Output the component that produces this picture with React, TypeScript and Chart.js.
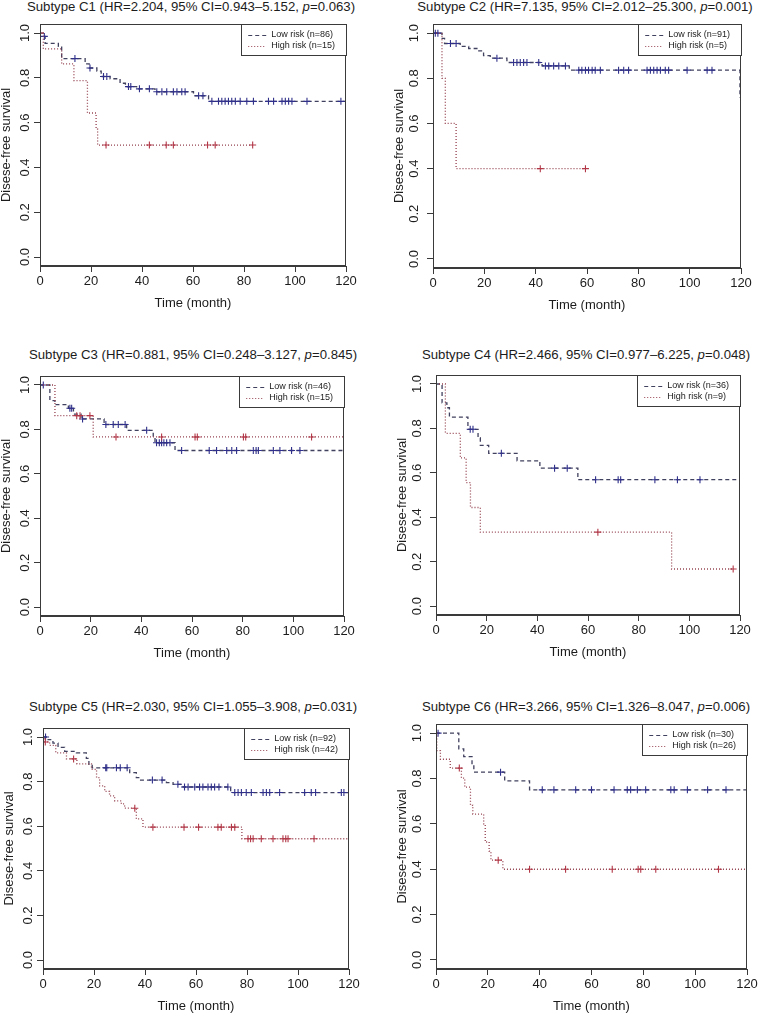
import React, { useEffect, useRef } from "react";
import { Chart, registerables } from "chart.js";
Chart.register(...registerables);

const FONT = "'Liberation Sans', Arial, Helvetica, sans-serif";

const xTicks = [0, 20, 40, 60, 80, 100, 120];
const yTicks = [0, 0.2, 0.4, 0.6, 0.8, 1.0];
const yTickLabels = ["0.0", "0.2", "0.4", "0.6", "0.8", "1.0"];

const subtypes = ["C1", "C2", "C3", "C4", "C5", "C6"];
const hrValues = ["2.204", "7.135", "0.881", "2.466", "2.030", "3.266"];
const ciValues = ["0.943–5.152", "2.012–25.300", "0.248–3.127", "0.977–6.225", "1.055–3.908", "1.326–8.047"];
const pValues = ["0.063", "0.001", "0.845", "0.048", "0.031", "0.006"];
const nLow = [86, 91, 46, 36, 92, 30];
const nHigh = [15, 5, 15, 9, 42, 26];

// ---- C1 ----
const c1LowTime = [0, 1.3, 2, 7.2, 8.5, 17.7, 19.3, 22.3, 24, 27.5, 31.4, 33.5, 37.9, 45.1, 60.2, 66.1, 120];
const c1LowSurv = [1, 0.985, 0.954, 0.941, 0.886, 0.862, 0.844, 0.83, 0.806, 0.796, 0.776, 0.761, 0.751, 0.738, 0.72, 0.695, 0.695];
const c1LowCens = [1.7, 13.7, 19.6, 24.9, 26.2, 34.7, 35.6, 39, 42.9, 45.8, 47.8, 49.7, 52.3, 53.7, 55.6, 56.9, 62.2, 63.9, 67.4, 70, 71.3, 72.6, 73.9, 75.2, 76.6, 78.5, 81.1, 83.7, 89.6, 91.6, 94.9, 96.2, 97.5, 98.8, 104.7, 118];
const c1HighTime = [0, 1.3, 8.5, 13.3, 18.6, 22, 22.6, 83.4];
const c1HighSurv = [1, 0.929, 0.862, 0.788, 0.643, 0.571, 0.5, 0.5];
const c1HighCens = [0, 25.9, 42.9, 49.5, 52.3, 65.7, 68.7, 83.4];

// ---- C2 ----
const c2LowTime = [0, 3.5, 4.5, 10.6, 13.9, 17.1, 19.7, 22.3, 28.8, 42.5, 53.1, 119.6];
const c2LowSurv = [1, 0.977, 0.954, 0.941, 0.932, 0.921, 0.9, 0.889, 0.87, 0.855, 0.836, 0.714];
const c2LowCens = [0.9, 1.9, 6.8, 9, 24.9, 31.4, 32.7, 34, 35.3, 36.6, 41.2, 43.8, 45.1, 47, 49, 51.6, 56.8, 58, 59.4, 60.6, 62, 63.2, 65.2, 72.3, 74.3, 76.2, 83.4, 84.7, 86, 87.3, 88.6, 90.5, 91.8, 99, 106.8, 108.7];
const c2HighTime = [0, 3.5, 4.8, 9, 59.4];
const c2HighSurv = [1, 0.8, 0.6, 0.4, 0.4];
const c2HighCens = [41.8, 59.4];

// ---- C3 ----
const c3LowTime = [0, 3.9, 5.9, 11.2, 13.2, 16.2, 25.3, 34.2, 44.7, 45.4, 53.3, 120];
const c3LowSurv = [1, 0.93, 0.912, 0.895, 0.869, 0.847, 0.822, 0.796, 0.766, 0.74, 0.705, 0.705];
const c3LowCens = [1.3, 11.8, 12.5, 16.8, 26, 28.9, 30.9, 33.6, 42.1, 46, 47.1, 48, 48.9, 50, 51.3, 55.9, 66.8, 69.7, 73.7, 75.7, 77.6, 84.2, 85.3, 86.2, 92.1, 94.7, 99.3, 102.6];
const c3HighTime = [0, 5.9, 21, 120];
const c3HighSurv = [1, 0.862, 0.766, 0.766];
const c3HighCens = [14.5, 15.8, 19.7, 30, 48, 61.2, 62.1, 80.3, 81.2, 107.2];

// ---- C4 ----
const c4LowTime = [0, 2.4, 4.3, 5.3, 12.6, 16.6, 17.5, 20.8, 32, 41, 56, 120];
const c4LowSurv = [1, 0.915, 0.893, 0.851, 0.796, 0.758, 0.724, 0.688, 0.654, 0.621, 0.569, 0.569];
const c4LowCens = [13.5, 14.6, 25.8, 46.8, 51.8, 63, 71.9, 72.9, 86.4, 95.3, 104.2];
const c4HighTime = [0, 3.7, 9.6, 11.9, 13.6, 17.5, 93, 117.3];
const c4HighSurv = [1, 0.778, 0.667, 0.556, 0.444, 0.333, 0.167, 0.167];
const c4HighCens = [63.9, 117.3];

// ---- C5 ----
const c5LowTime = [0, 2, 3.9, 5.9, 8.5, 13.1, 17, 18, 19.3, 34, 36.6, 37.9, 48.4, 51, 54.9, 73.6, 120];
const c5LowSurv = [1, 0.988, 0.973, 0.954, 0.936, 0.929, 0.904, 0.877, 0.862, 0.84, 0.818, 0.807, 0.796, 0.788, 0.776, 0.751, 0.751];
const c5LowCens = [1, 24.6, 25, 28.8, 30.3, 33, 42.9, 46.7, 52.9, 55.5, 56.9, 59.5, 61.4, 62.7, 64.7, 66, 67.3, 69, 72.5, 75.2, 76.5, 77.8, 79.7, 81.7, 86.3, 87.6, 88.9, 92.8, 102.6, 105.2, 106.9, 117, 118];
const c5HighTime = [0, 0.7, 2.6, 5, 9.2, 13.3, 19, 21, 22.2, 24.2, 26.1, 28.1, 30.7, 32, 36.6, 39.2, 78, 120];
const c5HighSurv = [1, 0.978, 0.963, 0.929, 0.902, 0.88, 0.855, 0.818, 0.781, 0.756, 0.736, 0.714, 0.7, 0.681, 0.633, 0.596, 0.544, 0.544];
const c5HighCens = [0.9, 12, 36, 43.1, 55.3, 61, 68.6, 69.9, 73.9, 75.2, 80.4, 81.4, 82.4, 85.6, 90.2, 94.1, 95.2, 96.1, 106.3];

// ---- C6 ----
const c6LowTime = [0, 8.8, 10.7, 13.9, 14.6, 26.5, 36.1, 120];
const c6LowSurv = [1, 0.931, 0.897, 0.862, 0.828, 0.79, 0.75, 0.75];
const c6LowCens = [0.8, 24.9, 41, 45.5, 53.9, 60, 68.7, 73.8, 75.1, 77.7, 80.9, 90.6, 91.9, 97, 104.8, 111.9];
const c6HighTime = [0, 0.3, 1.7, 5.5, 9.8, 11.1, 13.3, 14.2, 18.4, 19, 20.5, 21.2, 25.8, 120];
const c6HighSurv = [1, 0.923, 0.885, 0.846, 0.802, 0.762, 0.682, 0.643, 0.6, 0.52, 0.48, 0.44, 0.4, 0.4];
const c6HighCens = [9, 24, 36.1, 50, 68, 78, 79, 84.8, 109];

const lowTimes = [c1LowTime, c2LowTime, c3LowTime, c4LowTime, c5LowTime, c6LowTime];
const lowSurvs = [c1LowSurv, c2LowSurv, c3LowSurv, c4LowSurv, c5LowSurv, c6LowSurv];
const lowCens = [c1LowCens, c2LowCens, c3LowCens, c4LowCens, c5LowCens, c6LowCens];
const highTimes = [c1HighTime, c2HighTime, c3HighTime, c4HighTime, c5HighTime, c6HighTime];
const highSurvs = [c1HighSurv, c2HighSurv, c3HighSurv, c4HighSurv, c5HighSurv, c6HighSurv];
const highCens = [c1HighCens, c2HighCens, c3HighCens, c4HighCens, c5HighCens, c6HighCens];

// layout (page pixel positions of each plot box)
const layout = [
  { l: 40, r: 346, t: 23, b: 266, tx: 191, ty: 7, yLab: 11 },
  { l: 433, r: 741, t: 23, b: 268, tx: 585, ty: 7, yLab: 15 },
  { l: 40, r: 344, t: 375, b: 616, tx: 193, ty: 355, yLab: 11 },
  { l: 436, r: 740, t: 374, b: 615, tx: 586, ty: 355, yLab: 15 },
  { l: 43, r: 349, t: 727, b: 969, tx: 193, ty: 707, yLab: 11 },
  { l: 436, r: 747, t: 723, b: 969, tx: 586, ty: 707, yLab: 15 },
];

const AXIS = "#3a3a3a";
const TEXT = "#1c1c1c";
const LOW_LINE = "#40405f";
const LOW_MARK = "#30308a";
const HIGH_LINE = "#94404f";
const HIGH_MARK = "#b23848";

const PAD_L = 46;
const PAD_T = 4;
const PAD_R = 12;
const PAD_B = 48;

function stepAt(t: number, T: number[], S: number[]) {
  let s = S[0];
  for (let i = 0; i < T.length; i++) if (T[i] <= t) s = S[i];
  return s;
}

function Panel({ idx }: { idx: number }) {
  const ref = useRef<HTMLCanvasElement | null>(null);
  const box = layout[idx];
  const W = box.r - box.l + PAD_L + PAD_R;
  const H = box.b - box.t + PAD_T + PAD_B;

  useEffect(() => {
    const canvas = ref.current!;
    const lowLabel = `Low risk (n=${nLow[idx]})`;
    const highLabel = `High risk (n=${nHigh[idx]})`;

    const framePlugin = {
      id: "frame" + idx,
      afterDraw(chart: any) {
        const { ctx, chartArea: a } = chart;
        ctx.save();
        ctx.strokeStyle = AXIS;
        ctx.lineWidth = 1;
        ctx.strokeRect(Math.round(a.left) + 0.5, Math.round(a.top) + 0.5, Math.round(a.right - a.left) - 1, Math.round(a.bottom - a.top) - 1);
        // y tick labels (rotated, R style)
        const ys = chart.scales.y;
        ctx.fillStyle = TEXT;
        ctx.font = `13px ${FONT}`;
        ctx.textAlign = "center";
        ctx.textBaseline = "middle";
        for (let i = 0; i < yTicks.length; i++) {
          const py = ys.getPixelForValue(yTicks[i]);
          ctx.save();
          ctx.translate(a.left - box.yLab - 4, py);
          ctx.rotate(-Math.PI / 2);
          ctx.fillText(yTickLabels[i], 0, 0);
          ctx.restore();
        }
        // legend
        ctx.font = `9px ${FONT}`;
        const tw = Math.max(ctx.measureText(lowLabel).width, ctx.measureText(highLabel).width);
        const lw = 30 + tw + 11;
        const lh = 31;
        const lx = a.right - lw;
        const ly = a.top;
        ctx.fillStyle = "#ffffff";
        ctx.fillRect(lx, ly, lw, lh);
        ctx.strokeStyle = AXIS;
        ctx.strokeRect(Math.round(lx) + 0.5, Math.round(ly) + 0.5, Math.round(lw), lh);
        const rows = [
          { label: lowLabel, color: LOW_LINE, dash: [4, 3], y: ly + 10.5 },
          { label: highLabel, color: HIGH_LINE, dash: [1, 2], y: ly + 21.5 },
        ];
        for (const r of rows) {
          ctx.beginPath();
          ctx.setLineDash(r.dash);
          ctx.strokeStyle = r.color;
          ctx.moveTo(lx + 7, Math.round(r.y) + 0.5);
          ctx.lineTo(lx + 25, Math.round(r.y) + 0.5);
          ctx.stroke();
          ctx.setLineDash([]);
          ctx.fillStyle = TEXT;
          ctx.textAlign = "left";
          ctx.textBaseline = "middle";
          ctx.fillText(r.label, lx + 30, r.y);
        }
        ctx.restore();
      },
    };

    const lowPts = lowTimes[idx].map((t, i) => ({ x: t, y: lowSurvs[idx][i] }));
    const highPts = highTimes[idx].map((t, i) => ({ x: t, y: highSurvs[idx][i] }));
    const lowCensPts = lowCens[idx].map((t) => ({ x: t, y: stepAt(t, lowTimes[idx], lowSurvs[idx]) }));
    const highCensPts = highCens[idx].map((t) => ({ x: t, y: stepAt(t, highTimes[idx], highSurvs[idx]) }));

    const chart = new Chart(canvas, {
      type: "scatter",
      data: {
        datasets: [
          { label: "hc", data: highCensPts, showLine: false, pointStyle: "cross", pointRadius: 3.5, borderColor: HIGH_MARK, borderWidth: 1.1, backgroundColor: HIGH_MARK },
          { label: "hl", data: highPts, showLine: true, stepped: "before", pointRadius: 0, borderColor: HIGH_LINE, borderWidth: 1.3, borderDash: [1, 2], fill: false },
          { label: "lc", data: lowCensPts, showLine: false, pointStyle: "cross", pointRadius: 3.5, borderColor: LOW_MARK, borderWidth: 1.1, backgroundColor: LOW_MARK },
          { label: "ll", data: lowPts, showLine: true, stepped: "before", pointRadius: 0, borderColor: LOW_LINE, borderWidth: 1.3, borderDash: [4, 3], fill: false },
        ] as any,
      },
      options: {
        responsive: false,
        animation: false,
        devicePixelRatio: 1,
        events: [],
        layout: { padding: { left: 0, top: PAD_T, right: PAD_R, bottom: 0 } },
        plugins: { legend: { display: false }, tooltip: { enabled: false }, title: { display: false } },
        scales: {
          x: {
            type: "linear",
            min: 0,
            max: 120,
            afterBuildTicks: (s: any) => { s.ticks = xTicks.map((v) => ({ value: v })); },
            afterFit: (s: any) => { s.height = PAD_B; s.paddingLeft = 0; s.paddingRight = 0; },
            ticks: { autoSkip: false, maxRotation: 0, minRotation: 0, padding: 1.7, color: TEXT, font: { family: FONT, size: 13 } },
            grid: { display: true, drawOnChartArea: false, drawTicks: true, tickLength: 6, color: AXIS },
            border: { display: true, color: AXIS, width: 1 },
            title: { display: true, text: "Time (month)", color: TEXT, font: { family: FONT, size: 13 }, padding: { top: 0, bottom: 3.2 } },
          },
          y: {
            type: "linear",
            min: -0.04,
            max: 1.04,
            afterBuildTicks: (s: any) => { s.ticks = yTicks.map((v) => ({ value: v })); },
            afterFit: (s: any) => { s.width = PAD_L; s.paddingTop = 0; s.paddingBottom = 0; },
            ticks: { display: false },
            grid: { display: true, drawOnChartArea: false, drawTicks: true, tickLength: 6, color: AXIS },
            border: { display: true, color: AXIS, width: 1 },
            title: { display: true, text: "Disese-free survival", color: TEXT, font: { family: FONT, size: 13 }, padding: { top: 4.2, bottom: 0 } },
          },
        },
      } as any,
      plugins: [framePlugin],
    });
    return () => chart.destroy();
  }, [idx]);

  return (
    <>
      <div
        style={{
          position: "absolute",
          left: box.tx,
          top: box.ty - 8,
          transform: "translateX(-50%)",
          whiteSpace: "nowrap",
          fontFamily: FONT,
          fontSize: "13.2px",
          lineHeight: "16px",
          color: TEXT,
        }}
      >
        {`Subtype ${subtypes[idx]} (HR=${hrValues[idx]}, 95% CI=${ciValues[idx]}, `}
        <i>p</i>
        {`=${pValues[idx]})`}
      </div>
      <canvas
        ref={ref}
        width={W}
        height={H}
        style={{ position: "absolute", left: box.l - PAD_L, top: box.t - PAD_T, width: W, height: H }}
      />
    </>
  );
}

export default function App() {
  return (
    <div style={{ position: "absolute", left: 0, top: 0, width: 758, height: 1013, overflow: "hidden", background: "#fff" }}>
      {layout.map((_, i) => (
        <Panel key={i} idx={i} />
      ))}
    </div>
  );
}
